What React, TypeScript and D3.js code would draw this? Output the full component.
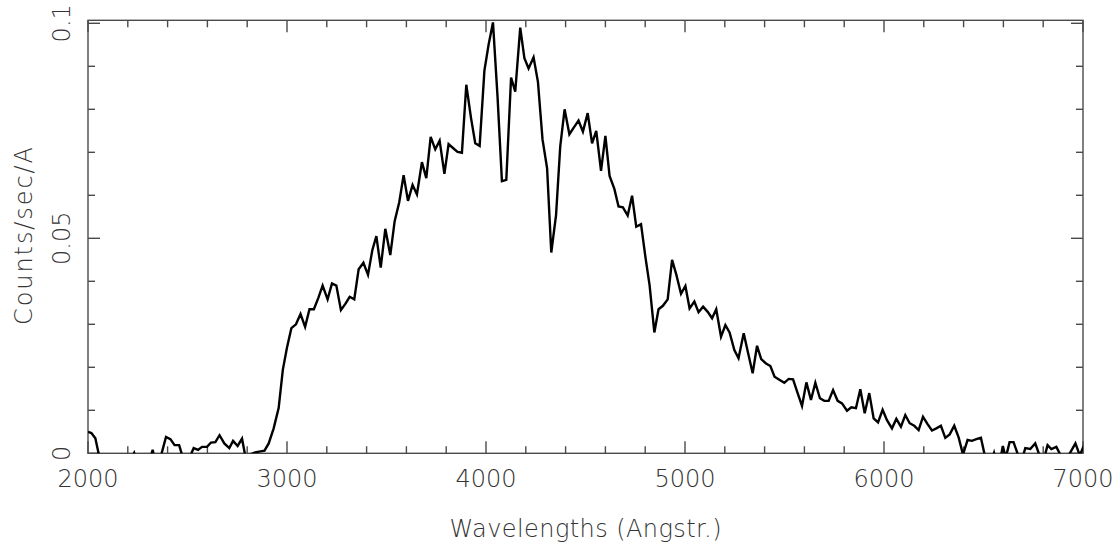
import React from "react";
import { scaleLinear, line, range } from "d3";

// spectrum
const wavelengths = [
  2000, 2017, 2037, 2053, 2075, 2097, 2119, 2141, 2163, 2186, 2208, 2232, 2254,
  2276, 2300, 2325, 2347, 2392, 2414, 2435, 2458, 2480, 2505, 2531, 2553, 2573,
  2598, 2618, 2640, 2661, 2685, 2710, 2729, 2752, 2774, 2796, 2818, 2840, 2860,
  2887, 2908, 2933, 2958, 2979, 3000, 3022, 3045, 3068, 3091, 3113, 3135, 3157,
  3179, 3204, 3226, 3248, 3271, 3294, 3315, 3338, 3360, 3384, 3407, 3429, 3449,
  3471, 3494, 3519, 3541, 3564, 3586, 3608, 3631, 3653, 3678, 3700, 3722, 3745,
  3767, 3791, 3812, 3834, 3857, 3879, 3901, 3925, 3946, 3968, 3992, 4013, 4035,
  4058, 4080, 4102, 4126, 4147, 4172, 4193, 4214, 4239, 4261, 4284, 4307, 4328,
  4352, 4373, 4395, 4419, 4440, 4465, 4487, 4511, 4533, 4554, 4578, 4600, 4621,
  4645, 4666, 4688, 4712, 4734, 4755, 4779, 4801, 4822, 4846, 4867, 4889, 4913,
  4935, 4956, 4980, 5002, 5023, 5047, 5068, 5091, 5114, 5136, 5157, 5181, 5203,
  5224, 5248, 5269, 5295, 5317, 5340, 5362, 5383, 5407, 5429, 5450, 5474, 5499,
  5521, 5543, 5566, 5588, 5610, 5633, 5655, 5678, 5700, 5722, 5744, 5767, 5789,
  5814, 5836, 5859, 5881, 5903, 5926, 5948, 5970, 5993, 6015, 6040, 6062, 6085,
  6107, 6129, 6152, 6174, 6196, 6219, 6241, 6263, 6286, 6308, 6330, 6353, 6375,
  6397, 6420, 6442, 6464, 6487, 6509, 6531, 6553, 6575, 6597, 6612, 6631, 6651,
  6673, 6690, 6710, 6735, 6760, 6780, 6800, 6822, 6841, 6866, 6888, 6910, 6930,
  6962, 6984, 7006,
];

const counts = [
  0.005, 0.0047, 0.0035, 0.0, -0.004, -0.005, -0.004, -0.003, -0.004, -0.003,
  -0.002, 0.0001, -0.003, -0.004, -0.003, 0.0008, -0.004, 0.0038, 0.0033,
  0.0019, 0.0019, -0.0015, -0.0015, 0.0012, 0.0008, 0.0015, 0.0015, 0.0025,
  0.0026, 0.0042, 0.0023, 0.0012, 0.0029, 0.0017, 0.0034, -0.002, -0.0002,
  0.0002, 0.0004, 0.0006, 0.0023, 0.0058, 0.0105, 0.0194, 0.0246, 0.0291,
  0.03, 0.0324, 0.0294, 0.0335, 0.0335, 0.0361, 0.039, 0.0358, 0.0395, 0.039,
  0.0333, 0.0348, 0.0364, 0.0358, 0.0428, 0.0443, 0.0415, 0.0473, 0.0505,
  0.0432, 0.0522, 0.0461, 0.054, 0.0584, 0.0647, 0.0587, 0.0624, 0.0602,
  0.0677, 0.064, 0.0736, 0.0707, 0.0727, 0.065, 0.0719, 0.071, 0.0701, 0.0699,
  0.0857, 0.0779, 0.0721, 0.0715, 0.089, 0.095, 0.1002, 0.0829, 0.0633,
  0.0636, 0.0874, 0.0841, 0.099, 0.0919, 0.0895, 0.0921, 0.0864, 0.073,
  0.0663, 0.0467, 0.0554, 0.0713, 0.08, 0.0742, 0.0757, 0.0774, 0.0748,
  0.0791, 0.0721, 0.075, 0.0657, 0.0738, 0.0645, 0.0615, 0.0574, 0.0572,
  0.0553, 0.0599, 0.0527, 0.0533, 0.0457, 0.0391, 0.0281, 0.0335, 0.0343,
  0.0358, 0.045, 0.0416, 0.0371, 0.0389, 0.0337, 0.0353, 0.0328, 0.0341,
  0.0329, 0.0314, 0.0335, 0.0271, 0.0298, 0.0281, 0.024, 0.0221, 0.0279,
  0.0233, 0.0186, 0.025, 0.0219, 0.0209, 0.0203, 0.0178, 0.0171, 0.0164,
  0.0173, 0.0172, 0.014, 0.011, 0.0165, 0.0124, 0.0164, 0.0128, 0.0122,
  0.0122, 0.0147, 0.0122, 0.0116, 0.0099, 0.0107, 0.0105, 0.0149, 0.0093,
  0.014, 0.0081, 0.0072, 0.0101, 0.0077, 0.0058, 0.008, 0.0062, 0.0089, 0.007,
  0.0064, 0.0054, 0.0085, 0.0068, 0.0053, 0.0058, 0.0064, 0.0036, 0.0044,
  0.0064, 0.0037, -0.0003, 0.0031, 0.0029, 0.0033, 0.0036, -0.001, -0.003,
  0.0001, -0.004, 0.0017, -0.001, 0.0026, 0.0026, -0.0003, -0.002, 0.0012,
  0.001, 0.0023, -0.0003, -0.002, 0.0019, 0.001, 0.0015, -0.0005, -0.002,
  -0.0003, 0.0023, -0.0005, 0.002,
];

const yTickLabels = ["0", "0.05", "0.1"];

const W = 1120;
const H = 548;
const left = 88;
const right = 1083;
const top = 20.3;
const bottom = 453.3;
const font = "'DejaVu Sans ExtraLight', 'DejaVu Sans', sans-serif";
const textColor = "#333";
const frameColor = "#4a4a4a";

export default function App() {
  const x = scaleLinear().domain([2000, 7000]).range([left, right]);
  const y = scaleLinear().domain([0, 0.1]).range([bottom, bottom - 430]);

  const path = line<number>()
    .x((_, i) => x(wavelengths[i]))
    .y((d) => y(d))(counts);

  const xTicks = range(2000, 7001, 200);
  const yTicks = range(0, 11).map((i) => i / 100);

  return (
    <svg
      width={W}
      height={H}
      style={{ position: "absolute", left: 0, top: 0, background: "#fff" }}
    >
      <defs>
        <clipPath id="plot">
          <rect x={left} y={top} width={right - left} height={bottom - top} />
        </clipPath>
      </defs>

      <g stroke={frameColor} strokeWidth={1.4}>
        {xTicks.map((t) => {
          const len = t % 1000 === 0 ? 12 : 7;
          return (
            <g key={"x" + t}>
              <line x1={x(t)} x2={x(t)} y1={bottom} y2={bottom - len} />
              <line x1={x(t)} x2={x(t)} y1={top} y2={top + len} />
            </g>
          );
        })}
        {yTicks.map((t, i) => {
          const len = i % 5 === 0 ? 12 : 7;
          return (
            <g key={"y" + i}>
              <line x1={left} x2={left + len} y1={y(t)} y2={y(t)} />
              <line x1={right} x2={right - len} y1={y(t)} y2={y(t)} />
            </g>
          );
        })}
        <rect
          x={left}
          y={top}
          width={right - left}
          height={bottom - top}
          fill="none"
        />
      </g>

      <path
        d={path ?? ""}
        fill="none"
        stroke="#000"
        strokeWidth={2.4}
        strokeLinejoin="miter"
        clipPath="url(#plot)"
      />

      <g fontFamily={font} fontWeight={200} fontSize={24} fill={textColor}>
        {range(2000, 7001, 1000).map((t) => (
          <text key={t} x={x(t)} y={487} textAnchor="middle">
            {t}
          </text>
        ))}
        {yTickLabels.map((s) => (
          <text
            key={s}
            transform={`translate(70,${y(+s)}) rotate(-90)`}
            textAnchor="middle"
          >
            {s}
          </text>
        ))}
        <text
          x={(left + right) / 2}
          y={536.5}
          textAnchor="middle"
          textLength={272}
          lengthAdjust="spacing"
        >
          Wavelengths (Angstr.)
        </text>
        <text
          transform={`translate(32,${(top + bottom) / 2 - 0.8}) rotate(-90)`}
          textAnchor="middle"
          textLength={178}
          lengthAdjust="spacing"
        >
          Counts/sec/A
        </text>
      </g>
    </svg>
  );
}
